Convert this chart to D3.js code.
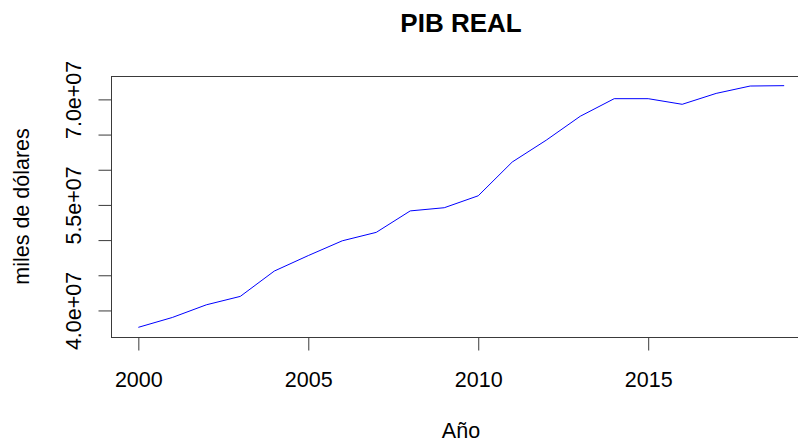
<!DOCTYPE html>
<html>
<head>
<meta charset="utf-8">
<script src="https://cdn.jsdelivr.net/npm/d3@7"></script>
<style>
  body { margin: 0; background: #fff; }
  text { font-family: "Liberation Sans", Arial, sans-serif; fill: #000; }
</style>
</head>
<body>
<svg id="chart" width="798" height="443"></svg>
<script>
var years = [2000, 2001, 2002, 2003, 2004, 2005, 2006, 2007, 2008, 2009,
             2010, 2011, 2012, 2013, 2014, 2015, 2016, 2017, 2018, 2019]
var pib = [37.6e6, 39.0e6, 40.8e6, 42.0e6, 45.6e6, 47.8e6, 49.9e6, 51.1e6, 54.15e6, 54.6e6,
           56.3e6, 61.1e6, 64.2e6, 67.6e6, 70.1e6, 70.1e6, 69.3e6, 70.85e6, 71.9e6, 71.95e6]
var xTicks = [2000, 2005, 2010, 2015]
var yTicks = [4.0e7, 4.5e7, 5.0e7, 5.5e7, 6.0e7, 6.5e7, 7.0e7]
var yLabelled = [4.0e7, 5.5e7, 7.0e7]

var svg = d3.select("#chart")
var pLeft = 112, pRight = 810, pTop = 76, pBottom = 337
var fs = "21.5px"

// R style: extend the data range by 4% on each side
function pad(ext) {
    var d = (ext[1] - ext[0]) * 0.04
    return [ext[0] - d, ext[1] + d]
}

var x = d3.scaleLinear().domain(pad(d3.extent(years))).range([pLeft + 0.5, pRight])
var y = d3.scaleLinear().domain(pad(d3.extent(pib))).range([pBottom, pTop])

// box
svg.append("rect")
    .attr("x", pLeft - 0.5).attr("y", pTop + 0.5)
    .attr("width", pRight - pLeft).attr("height", pBottom - pTop)
    .attr("fill", "none").attr("stroke", "#3a3a3a").attr("stroke-width", 1)

var xAxis = d3.axisBottom(x).tickValues(xTicks).tickFormat(d3.format("d")).tickSize(13).tickPadding(0)
var gx = svg.append("g").attr("transform", "translate(0," + (pBottom + 0.5) + ")").call(xAxis)
gx.select(".domain").remove()
gx.selectAll("line").attr("stroke", "#3a3a3a")
gx.selectAll("text")
    .style("font-size", fs).attr("fill", "#000")
    .attr("y", 49).attr("dy", 0)

var yAxis = d3.axisLeft(y).tickValues(yTicks).tickSize(13).tickPadding(0)
    .tickFormat(function (d) {
        if (yLabelled.indexOf(d) < 0) return ""
        return (d / 1e7).toFixed(1) + "e+07"
    })
var gy = svg.append("g").attr("transform", "translate(" + (pLeft - 0.5) + ",0)").call(yAxis)
gy.select(".domain").remove()
gy.selectAll("line").attr("stroke", "#3a3a3a")
gy.selectAll("text")
    .style("font-size", fs).attr("fill", "#000")
    .attr("x", 0).attr("dy", 0)
    .attr("transform", "translate(-31,0) rotate(-90)")
    .style("text-anchor", "middle")

// the line
var line = d3.line()
    .x(function (d, i) { return x(years[i]) })
    .y(function (d) { return y(d) })
svg.append("path")
    .datum(pib)
    .attr("d", line)
    .attr("fill", "none")
    .attr("stroke", "#0000ff")
    .attr("stroke-width", 1)

// titles
svg.append("text")
    .attr("x", (pLeft + pRight) / 2).attr("y", 32)
    .style("text-anchor", "middle")
    .style("font-size", "26px").style("font-weight", "bold")
    .text("PIB REAL")

svg.append("text")
    .attr("x", (pLeft + pRight) / 2).attr("y", 438)
    .style("text-anchor", "middle")
    .style("font-size", fs)
    .text("Año")

svg.append("text")
    .attr("transform", "translate(29," + (pTop + pBottom) / 2 + ") rotate(-90)")
    .style("text-anchor", "middle")
    .style("font-size", fs)
    .text("miles de dólares")
</script>
</body>
</html>
